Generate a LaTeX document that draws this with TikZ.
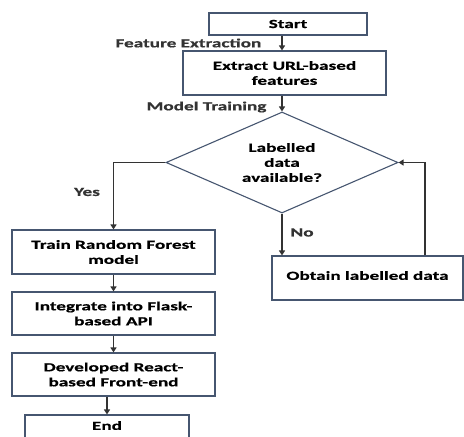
\documentclass[tikz,border=0pt]{standalone}
\usepackage{fontspec}
\setmainfont{Carlito}[FakeStretch=1.55, BoldFeatures={FakeBold=0.6}]
\usetikzlibrary{arrows.meta,shapes.geometric}
\definecolor{boxline}{RGB}{70,86,112}

\begin{document}
\begin{tikzpicture}[x=1pt, y=-1pt,
  txt/.style={font=\bfseries\fontsize{12.4}{15}\selectfont},
  box/.style={txt, draw=boxline, line width=1.1pt, align=center, inner sep=0pt},
  decbox/.style={txt, draw=boxline, line width=1.1pt, align=center, inner sep=0pt, shape=diamond, aspect=2.3},
  lbl/.style={txt, inner sep=0pt},
  arr/.style={black!80, line width=1.2pt, -{Triangle[width=6pt,length=5pt]}}]
\useasboundingbox (0,0) rectangle (464,437);
\clip (0,0) rectangle (464,437);
\node[box, minimum width=158pt, minimum height=22pt] (start) at (288,24) {Start};
\node[box, minimum width=203pt, minimum height=44pt] (extract) at (284.5,73) {Extract URL-based\\features};
\node[decbox, minimum width=232pt, minimum height=101pt] (dec) at (282,162.5) {Labelled\\data\\available?};
\node[box, minimum width=203pt, minimum height=44pt] (train) at (113.5,252) {Train Random Forest\\model};
\node[box, minimum width=191pt, minimum height=44pt] (obtain) at (367.5,278) {\raisebox{5pt}{Obtain labelled data}};
\node[box, minimum width=203pt, minimum height=43pt] (integ) at (113.5,313.5) {Integrate into Flask-\\based API};
\node[box, minimum width=203pt, minimum height=43pt] (dev) at (113.5,374.5) {Developed React-\\based Front-end};
\node[box, minimum width=164pt, minimum height=24pt] (end) at (107,427) {\raisebox{3pt}{End}};
% connectors
\draw[arr] (start.south -| dec.north) -- node[lbl, left=20pt] (fe) {Feature Extraction} (extract.north -| dec.north);
\draw[arr] (extract.south -| dec.north) -- node[lbl, left=15pt, yshift=-3.5pt] (mt) {Model Training} (dec.north);
\draw[arr] (dec.west) -| node[lbl, pos=0.72, left=13pt] (yes) {Yes} (train.north);
\draw[arr] (dec.south) -- node[lbl, right=8pt, yshift=2pt] (no) {No} (obtain.north -| dec.south);
\draw[arr] ([xshift=57.5pt]obtain.north) |- (dec.east);
\draw[arr] (train) -- (integ);
\draw[arr] (integ) -- (dev);
\draw[arr] (end.north |- dev.south) -- (end.north);
\end{tikzpicture}
\end{document}
